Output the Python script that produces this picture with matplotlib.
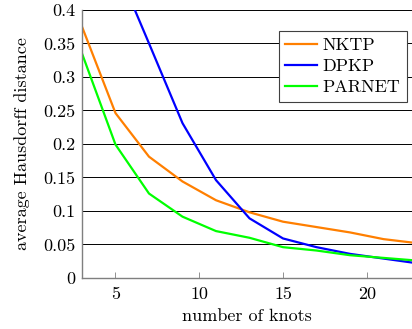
import matplotlib
matplotlib.use("Agg")
import matplotlib.pyplot as plt

# ===========================================
# DATA
# ===========================================
knots = [3, 5, 7, 9, 11, 13, 15, 17, 19, 21, 23]
nktp = [0.375, 0.246, 0.181, 0.144, 0.116, 0.098, 0.084, 0.076, 0.068, 0.058, 0.052]
dpkp = [0.59, 0.468, 0.350, 0.231, 0.146, 0.089, 0.059, 0.046, 0.036, 0.029, 0.022]
parnet = [0.335, 0.199, 0.126, 0.0915, 0.070, 0.060, 0.046, 0.041, 0.034, 0.030, 0.026]

x_ticks = [5, 10, 15, 20]
y_ticks = [0, 0.05, 0.1, 0.15, 0.2, 0.25, 0.3, 0.35, 0.4]
y_tick_labels = ["0", "0.05", "0.1", "0.15", "0.2", "0.25", "0.3", "0.35", "0.4"]
# ===========================================

plt.rcParams["font.family"] = ["cmr10", "DejaVu Serif"]
plt.rcParams["axes.formatter.use_mathtext"] = True
plt.rcParams["font.size"] = 13

fig = plt.figure(figsize=(4.12, 3.29), dpi=100)
ax = fig.add_axes([0.199, 0.155, 0.801, 0.815])

ax.plot(knots, nktp, color="#ff7f00", lw=1.6, label="NKTP")
ax.plot(knots, dpkp, color="#0000ff", lw=1.6, label="DPKP")
ax.plot(knots, parnet, color="#00ff00", lw=1.6, label="PARNET")

ax.set_xlim(3, 22.7)
ax.set_ylim(0, 0.4)
ax.set_xticks(x_ticks)
ax.set_xticklabels([str(t) for t in x_ticks])
ax.set_yticks(y_ticks)
ax.set_yticklabels(y_tick_labels)

ax.yaxis.grid(True, color="black", lw=0.7)
ax.set_axisbelow(True)

for side in ["top", "right"]:
    ax.spines[side].set_visible(False)
for side in ["left", "bottom"]:
    ax.spines[side].set_color("#7f7f7f")
    ax.spines[side].set_linewidth(1.0)

ax.tick_params(direction="in", length=4, color="#7f7f7f", width=0.6)
ax.tick_params(axis="y", length=0, pad=5)
ax.tick_params(axis="x", pad=6)

ax.set_xlabel("number of knots", labelpad=5)
ax.set_ylabel("average Hausdorff distance", labelpad=9)

leg = ax.legend(loc="upper right", bbox_to_anchor=(0.985, 0.92), fancybox=False,
                edgecolor="#404040", framealpha=1.0, borderpad=0.35,
                handlelength=1.75, handletextpad=0.35, labelspacing=0.3,
                borderaxespad=0.0)
leg.get_frame().set_linewidth(0.8)

fig.savefig("out.png", dpi=100)
